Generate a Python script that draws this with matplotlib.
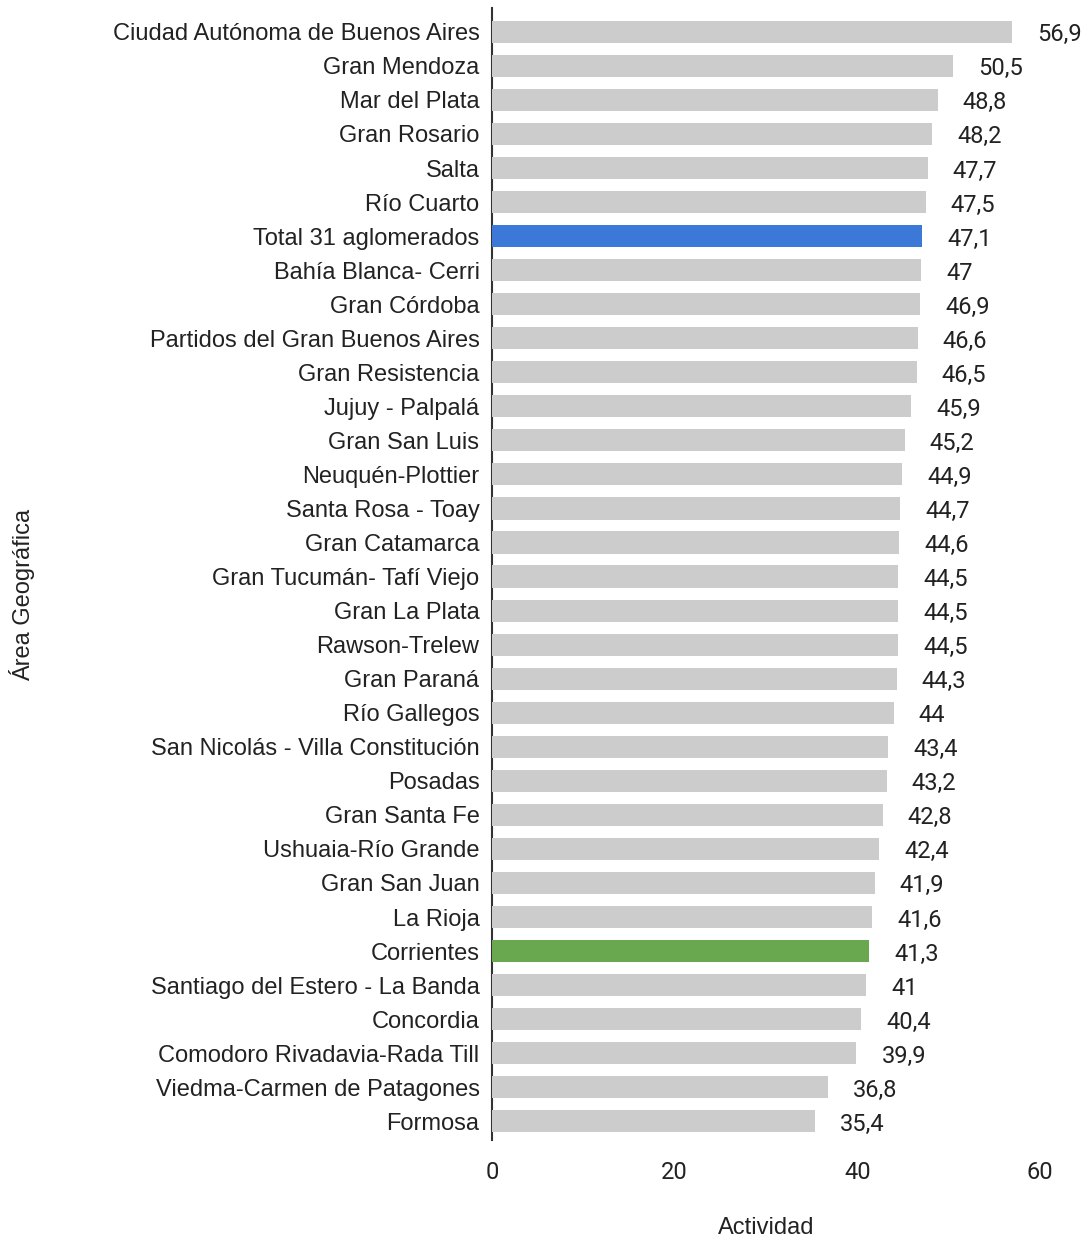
import matplotlib
matplotlib.use("Agg")
import matplotlib.pyplot as plt

plt.rcParams['font.family'] = ['Liberation Sans', 'DejaVu Sans']

areas = [
    "Ciudad Autónoma de Buenos Aires", "Gran Mendoza", "Mar del Plata", "Gran Rosario",
    "Salta", "Río Cuarto", "Total 31 aglomerados", "Bahía Blanca- Cerri", "Gran Córdoba",
    "Partidos del Gran Buenos Aires", "Gran Resistencia", "Jujuy - Palpalá", "Gran San Luis",
    "Neuquén-Plottier", "Santa Rosa - Toay", "Gran Catamarca", "Gran Tucumán- Tafí Viejo",
    "Gran La Plata", "Rawson-Trelew", "Gran Paraná", "Río Gallegos",
    "San Nicolás - Villa Constitución", "Posadas", "Gran Santa Fe", "Ushuaia-Río Grande",
    "Gran San Juan", "La Rioja", "Corrientes", "Santiago del Estero - La Banda",
    "Concordia", "Comodoro Rivadavia-Rada Till", "Viedma-Carmen de Patagones", "Formosa",
]
actividad = [
    56.9, 50.5, 48.8, 48.2, 47.7, 47.5, 47.1, 47, 46.9, 46.6, 46.5, 45.9, 45.2, 44.9,
    44.7, 44.6, 44.5, 44.5, 44.5, 44.3, 44, 43.4, 43.2, 42.8, 42.4, 41.9, 41.6, 41.3,
    41, 40.4, 39.9, 36.8, 35.4,
]
highlight = {"Total 31 aglomerados": "#3c78d8", "Corrientes": "#6aa84f"}

FS = 17          # category labels / axis titles (Arial-like)
FS_NUM = 17      # numbers (Roboto)
W, H = 1085, 1242
fig = plt.figure(figsize=(W / 100, H / 100), dpi=100)
ax = fig.add_axes([492 / W, 1 - 1140 / H, (1040 - 492) / W, (1140 - 8) / H])

colors = [highlight.get(a, "#cccccc") for a in areas]
ypos = list(range(len(areas)))
ax.barh(ypos, actividad, height=0.65, color=colors, zorder=2)

for y, v in zip(ypos, actividad):
    txt = ("%g" % v).replace(".", ",")
    ax.annotate(txt, (v, y), xytext=(25, -3), textcoords="offset pixels",
                va="center", ha="left", fontsize=FS_NUM, color="#222222",
                family=["Roboto", "DejaVu Sans"])

ax.set_xlim(0, 60)
ax.set_ylim(32.55, -0.7)
ax.set_yticks(ypos)
ax.set_yticklabels(areas, fontsize=FS, color="#222222")
ax.set_xticks([0, 20, 40, 60])
ax.set_xticklabels(["0", "20", "40", "60"], fontsize=FS_NUM, color="#222222",
                   family=["Roboto", "DejaVu Sans"])
ax.tick_params(axis="both", length=0)
ax.tick_params(axis="y", pad=9)
ax.tick_params(axis="x", pad=15)

for s in ["top", "right", "bottom"]:
    ax.spines[s].set_visible(False)
ax.spines["left"].set_color("#333333")
ax.spines["left"].set_linewidth(1.5)
ax.spines["left"].set_zorder(1)

fig.text(22 / W, 1 - 595 / H, "Área Geográfica", rotation=90, ha="center", va="center",
         fontsize=FS, color="#222222")
fig.text(766 / W, 1 - 1228 / H, "Actividad", ha="center", va="center",
         fontsize=FS, color="#222222")

plt.savefig("out.png", dpi=100)
